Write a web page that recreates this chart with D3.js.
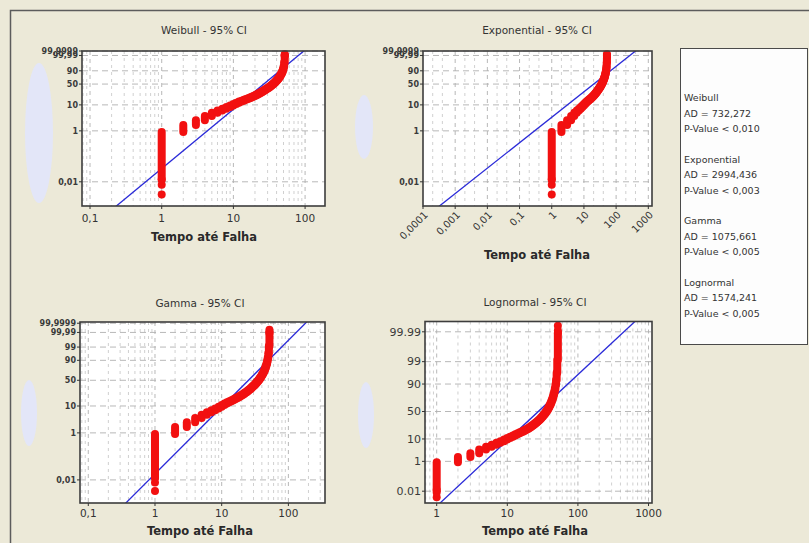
<!DOCTYPE html>
<html><head><meta charset="utf-8">
<script src="https://cdn.jsdelivr.net/npm/d3@7"></script>
<style>
html,body{margin:0;padding:0;background:#ece9d8;}
svg{display:block;font-family:"DejaVu Sans",Verdana,sans-serif;}
</style></head><body>
<svg id="chart" width="809" height="543"></svg>
<script>
// ================= DATA =================
// failure times (Tempo até Falha) and cumulative percent (empirical CDF) at each time
const failureTimes = [1,2,3,4,5,6,7,8,9,10,11,12,13,14,15,16,17,18,19,20,21,22,23,24,25,26,
  27,28,29,30,31,32,33,34,35,36,37,38,39,40,41,42,43,44,45,46,47,48,49,50,51,52];
const cumulativePercent = [0.9,1.7,2.6,3.8,5.0,6.1,7.2,8.3,9.5,10.8,12.0,13.2,14.3,15.4,16.5,17.6,
  18.7,19.9,21.1,22.4,23.8,25.2,26.7,28.2,29.8,31.5,33.2,35.0,36.9,38.8,40.8,42.9,45.0,47.2,49.5,
  51.9,54.4,57.0,59.7,62.5,65.5,68.6,71.8,75.1,78.5,82.0,85.6,89.3,93.0,96.5,99.2,100];
// plotting positions of the extreme ranks (percent)
const firstRanksPct = [0.0032, 0.0077, 0.0123];
const lastRanksPct = [99.9877, 99.9923, 99.9968];

// fitted distributions
const fitWeibull = {shape: 2.33, scale: 31.1};
const fitExponential = {mean: 29};
const fitGamma = {shape: 3, scale: 9.42};
const fitLognormal = {location: 3.314, scale: 0.75};

// tick values / labels
const probTicksWeibull = [0.01, 1, 10, 50, 90, 99.99, 99.9999];
const probLabelsWeibull = ["0,01","1","10","50","90","99,99","99,9999"];
const probTicksGamma = [0.01, 1, 10, 50, 90, 99, 99.99, 99.9999];
const probLabelsGamma = ["0,01","1","10","50","90","99","99,99","99,9999"];
const probTicksLognormal = [0.01, 1, 10, 50, 90, 99, 99.99];
const probLabelsLognormal = ["0.01","1","10","50","90","99","99.99"];
const xTicksWeibull = [0.1, 1, 10, 100];
const xLabelsWeibull = ["0,1","1","10","100"];
const xTicksExponential = [0.0001, 0.001, 0.01, 0.1, 1, 10, 100, 1000];
const xLabelsExponential = ["0,0001","0,001","0,01","0,1","1","10","100","1000"];
const xTicksGamma = [0.1, 1, 10, 100];
const xLabelsGamma = ["0,1","1","10","100"];
const xTicksLognormal = [1, 10, 100, 1000];
const xLabelsLognormal = ["1","10","100","1000"];

// goodness-of-fit table
const legendNames = ["Weibull","Exponential","Gamma","Lognormal"];
const legendAD = ["732,272","2994,436","1075,661","1574,241"];
const legendP = ["0,010","0,003","0,005","0,005"];

const panelTitles = ["Weibull - 95% CI","Exponential - 95% CI","Gamma - 95% CI","Lognormal - 95% CI"];
const xAxisTitle = "Tempo até Falha";

// ================= MATH =================
function normInv(p){
  const a=[-3.969683028665376e+01,2.209460984245205e+02,-2.759285104469687e+02,1.383577518672690e+02,-3.066479806614716e+01,2.506628277459239e+00];
  const b=[-5.447609879822406e+01,1.615858368580409e+02,-1.556989798598866e+02,6.680131188771972e+01,-1.328068155288572e+01];
  const c=[-7.784894002430293e-03,-3.223964580411365e-01,-2.400758277161838e+00,-2.549732539343734e+00,4.374664141464968e+00,2.938163982698783e+00];
  const d=[7.784695709041462e-03,3.224671290700398e-01,2.445134137142996e+00,3.754408661907416e+00];
  const pl=0.02425, ph=1-pl; let q,r;
  if(p<pl){q=Math.sqrt(-2*Math.log(p));return (((((c[0]*q+c[1])*q+c[2])*q+c[3])*q+c[4])*q+c[5])/((((d[0]*q+d[1])*q+d[2])*q+d[3])*q+1);}
  if(p<=ph){q=p-0.5;r=q*q;return (((((a[0]*r+a[1])*r+a[2])*r+a[3])*r+a[4])*r+a[5])*q/(((((b[0]*r+b[1])*r+b[2])*r+b[3])*r+b[4])*r+1);}
  q=Math.sqrt(-2*Math.log(1-p));return -(((((c[0]*q+c[1])*q+c[2])*q+c[3])*q+c[4])*q+c[5])/((((d[0]*q+d[1])*q+d[2])*q+d[3])*q+1);
}
function lgamma(z){
  const g=7, cf=[0.99999999999980993,676.5203681218851,-1259.1392167224028,771.32342877765313,-176.61502916214059,12.507343278686905,-0.13857109526572012,9.9843695780195716e-6,1.5056327351493116e-7];
  if(z<0.5) return Math.log(Math.PI/Math.sin(Math.PI*z))-lgamma(1-z);
  z-=1; let x=cf[0]; for(let i=1;i<g+2;i++) x+=cf[i]/(z+i);
  const t=z+g+0.5; return 0.5*Math.log(2*Math.PI)+(z+0.5)*Math.log(t)-t+Math.log(x);
}
function gammaP(a,x){
  if(x<=0) return 0;
  const lf = -x + a*Math.log(x) - lgamma(a);
  if(x < a+1){
    let ap=a, sum=1/a, del=sum;
    for(let n=0;n<1000;n++){ap+=1; del*=x/ap; sum+=del; if(Math.abs(del)<Math.abs(sum)*1e-16) break;}
    return sum*Math.exp(lf);
  }
  let b=x+1-a, c=1e300, d=1/b, h=d;
  for(let i=1;i<1000;i++){
    const an=-i*(i-a); b+=2; d=an*d+b; if(Math.abs(d)<1e-300) d=1e-300;
    c=b+an/c; if(Math.abs(c)<1e-300) c=1e-300; d=1/d; const del=d*c; h*=del;
    if(Math.abs(del-1)<1e-16) break;
  }
  return 1 - Math.exp(lf)*h;
}
function gammaInv(p,a){
  let lo=-30, hi=12;
  for(let i=0;i<200;i++){const mid=(lo+hi)/2; if(gammaP(a,Math.exp(mid))<p) lo=mid; else hi=mid;}
  return Math.exp((lo+hi)/2);
}
const weibullT = p => Math.log(-Math.log(1-p));

// ================= LAYOUT =================
const W = 809, H = 543;
const svg = d3.select("#chart");
svg.append("rect").attr("width",W).attr("height",H).attr("fill","#ece9d8");
svg.append("path").attr("d","M10.5,543V10.5H809").attr("fill","none").attr("stroke","#5c5c5c").attr("stroke-width",1.5);

const panels = [
  { title: panelTitles[0], cx: 204, titleY: 34,
    box: {left: 82, right: 325, top: 51, bottom: 206},
    xDomain: [0.0773, 189.6], xTicks: xTicksWeibull, xLabels: xLabelsWeibull, xMinor: [2,3,4,5,6,7,8,9],
    xLabelY: 222, rotateX: false, axisTitleY: 241,
    yType: "linear", yDomain: [-11.4, 2.626], yT: p => weibullT(p),
    yTicks: probTicksWeibull, yLabels: probLabelsWeibull, yFont: 8, yBold: true,
    fit: t => fitWeibull.shape*Math.log(t/fitWeibull.scale),
    blob: {cx: 39, cy: 133, rx: 14, ry: 70} },
  { title: panelTitles[1], cx: 537, titleY: 34,
    box: {left: 423, right: 652, top: 51, bottom: 206},
    xDomain: [0.0001, 1303], xTicks: xTicksExponential, xLabels: xLabelsExponential, xMinor: [2,4],
    xLabelY: 213, rotateX: true, axisTitleY: 259,
    yType: "linear", yDomain: [-11.4, 2.626], yT: p => weibullT(p),
    yTicks: probTicksWeibull, yLabels: probLabelsWeibull, yFont: 8, yBold: true,
    fit: t => Math.log(t/fitExponential.mean),
    blob: {cx: 364, cy: 127, rx: 9, ry: 32} },
  { title: panelTitles[2], cx: 200, titleY: 307,
    box: {left: 80, right: 325, top: 322, bottom: 503},
    xDomain: [0.0751, 354], xTicks: xTicksGamma, xLabels: xLabelsGamma, xMinor: [2,3,4,5,6,7,8,9],
    xLabelY: 517, rotateX: false, axisTitleY: 535,
    yType: "log", yDomain: [0.366, 188], yT: p => fitGamma.scale*gammaInv(p, fitGamma.shape),
    yTicks: probTicksGamma, yLabels: probLabelsGamma, yFont: 8, yBold: true,
    fit: t => t,
    blob: {cx: 29, cy: 413, rx: 8, ry: 33} },
  { title: panelTitles[3], cx: 535, titleY: 306,
    box: {left: 425, right: 652, top: 321.5, bottom: 503},
    xDomain: [0.683, 1120], xTicks: xTicksLognormal, xLabels: xLabelsLognormal, xMinor: [2,3,4,5,6,7,8,9],
    xLabelY: 517, rotateX: false, axisTitleY: 535,
    yType: "linear", yDomain: [-4.27, 4.2], yT: p => normInv(p),
    yTicks: probTicksLognormal, yLabels: probLabelsLognormal, yFont: 11, yBold: false,
    fit: t => (Math.log(t)-fitLognormal.location)/fitLognormal.scale,
    blob: {cx: 366, cy: 415, rx: 8, ry: 33} }
];

const defs = svg.append("defs");

panels.forEach((P, idx) => {
  const g = svg.append("g");
  const b = P.box;
  const x = d3.scaleLog().domain(P.xDomain).range([b.left, b.right]);
  const y = (P.yType === "log" ? d3.scaleLog() : d3.scaleLinear()).domain(P.yDomain).range([b.bottom, b.top]);
  const yp = pct => y(P.yT(pct/100));

  // decorative pale shape (hidden y-axis title area)
  g.append("ellipse").attr("cx",P.blob.cx).attr("cy",P.blob.cy).attr("rx",P.blob.rx).attr("ry",P.blob.ry)
    .attr("fill","#e3e6f8");

  // plot background
  g.append("rect").attr("x",b.left).attr("y",b.top).attr("width",b.right-b.left).attr("height",b.bottom-b.top)
    .attr("fill","#ffffff");

  const clipId = "clip"+idx;
  defs.append("clipPath").attr("id",clipId).append("rect")
    .attr("x",b.left).attr("y",b.top).attr("width",b.right-b.left).attr("height",b.bottom-b.top);

  // minor vertical grid
  const minorVals = [];
  for(let e=Math.floor(Math.log10(P.xDomain[0]))-1; e<=Math.ceil(Math.log10(P.xDomain[1])); e++){
    for(const m of P.xMinor){ const v = m*Math.pow(10,e); if(v>P.xDomain[0] && v<P.xDomain[1]) minorVals.push(v); }
  }
  g.append("g").selectAll("line").data(minorVals).join("line")
    .attr("x1",d=>x(d)).attr("x2",d=>x(d)).attr("y1",b.top).attr("y2",b.bottom)
    .attr("stroke","#c4c4c4").attr("stroke-width",0.8).attr("stroke-dasharray","3,4");
  // major vertical grid
  g.append("g").selectAll("line").data(P.xTicks.filter(v=>v>P.xDomain[0]&&v<P.xDomain[1])).join("line")
    .attr("x1",d=>x(d)).attr("x2",d=>x(d)).attr("y1",b.top).attr("y2",b.bottom)
    .attr("stroke","#b0b0b0").attr("stroke-width",0.9).attr("stroke-dasharray","4,4");
  // horizontal grid
  g.append("g").selectAll("line").data(P.yTicks).join("line")
    .attr("x1",b.left).attr("x2",b.right).attr("y1",d=>yp(d)).attr("y2",d=>yp(d))
    .attr("stroke","#b0b0b0").attr("stroke-width",0.9).attr("stroke-dasharray","6,4");

  // fitted line
  const xs = [P.xDomain[0], P.xDomain[1]];
  const lineGen = d3.line().x(d=>x(d)).y(d=>y(P.fit(d)));
  g.append("path").datum(xs).attr("d",lineGen).attr("clip-path",`url(#${clipId})`)
    .attr("fill","none").attr("stroke","#2a2ad8").attr("stroke-width",1.3);

  // data points: each failure time carries a run of observations between consecutive cumulative percents
  const groups = failureTimes.map((t,i)=>({
    t,
    lo: i===0 ? firstRanksPct[firstRanksPct.length-1] : cumulativePercent[i-1],
    hi: i===failureTimes.length-1 ? lastRanksPct[0] : cumulativePercent[i]
  }));
  const red = "#f21010";
  g.append("g").selectAll("line").data(groups).join("line")
    .attr("x1",d=>x(d.t)).attr("x2",d=>x(d.t)).attr("y1",d=>yp(d.lo)).attr("y2",d=>yp(d.hi))
    .attr("stroke",red).attr("stroke-width",8).attr("stroke-linecap","round");
  const tMin = failureTimes[0], tMax = failureTimes[failureTimes.length-1];
  g.append("g").selectAll("circle")
    .data(firstRanksPct.map(p=>({t:tMin,p})).concat(lastRanksPct.map(p=>({t:tMax,p}))))
    .join("circle").attr("cx",d=>x(d.t)).attr("cy",d=>yp(d.p)).attr("r",4).attr("fill",red);

  // frame
  g.append("rect").attr("x",b.left).attr("y",b.top).attr("width",b.right-b.left).attr("height",b.bottom-b.top)
    .attr("fill","none").attr("stroke","#3d3d3d").attr("stroke-width",1.6);

  // y ticks and labels
  g.append("g").selectAll("line").data(P.yTicks).join("line")
    .attr("x1",b.left-3).attr("x2",b.left).attr("y1",d=>yp(d)).attr("y2",d=>yp(d)).attr("stroke","#333");
  g.append("g").selectAll("text").data(P.yTicks).join("text")
    .attr("x",b.left-4).attr("y",d=>yp(d)).attr("dy","0.35em").attr("text-anchor","end")
    .attr("font-size",P.yFont).attr("font-weight",P.yBold?"bold":"normal").attr("fill","#3a3a3a")
    .text((d,i)=>P.yLabels[i]);

  // x ticks and labels
  g.append("g").selectAll("line").data(P.xTicks).join("line")
    .attr("x1",d=>x(d)).attr("x2",d=>x(d)).attr("y1",b.bottom).attr("y2",b.bottom+3).attr("stroke","#333");
  if(P.rotateX){
    g.append("g").selectAll("text").data(P.xTicks).join("text")
      .attr("transform",d=>`translate(${x(d)+3},${P.xLabelY}) rotate(-45)`)
      .attr("text-anchor","end").attr("dy","0.35em").attr("font-size",10).attr("fill","#333")
      .text((d,i)=>P.xLabels[i]);
  } else {
    g.append("g").selectAll("text").data(P.xTicks).join("text")
      .attr("x",d=>x(d)).attr("y",P.xLabelY).attr("text-anchor","middle").attr("font-size",10.5).attr("fill","#333")
      .text((d,i)=>P.xLabels[i]);
  }

  // titles
  g.append("text").attr("x",P.cx).attr("y",P.titleY).attr("text-anchor","middle")
    .attr("font-size",10.5).attr("fill","#333").text(P.title);
  g.append("text").attr("x",P.cx).attr("y",P.axisTitleY).attr("text-anchor","middle")
    .attr("font-size",11.5).attr("font-weight","bold").attr("fill","#2a2a2a").text(xAxisTitle);
});

// ============ goodness-of-fit box ============
const lg = svg.append("g");
lg.append("rect").attr("x",680.5).attr("y",48.5).attr("width",127).attr("height",296)
  .attr("fill","#fdfdfd").attr("stroke","#4a4a4a").attr("stroke-width",1);
legendNames.forEach((name,i)=>{
  const y0 = 101 + i*61.5;
  const lines = [name, "AD = " + legendAD[i], "P-Value < " + legendP[i]];
  lg.append("g").selectAll("text").data(lines).join("text")
    .attr("x",684).attr("y",(d,j)=>y0 + j*15.5).attr("font-size",9.5).attr("fill","#333").text(d=>d);
});
</script>
</body></html>
